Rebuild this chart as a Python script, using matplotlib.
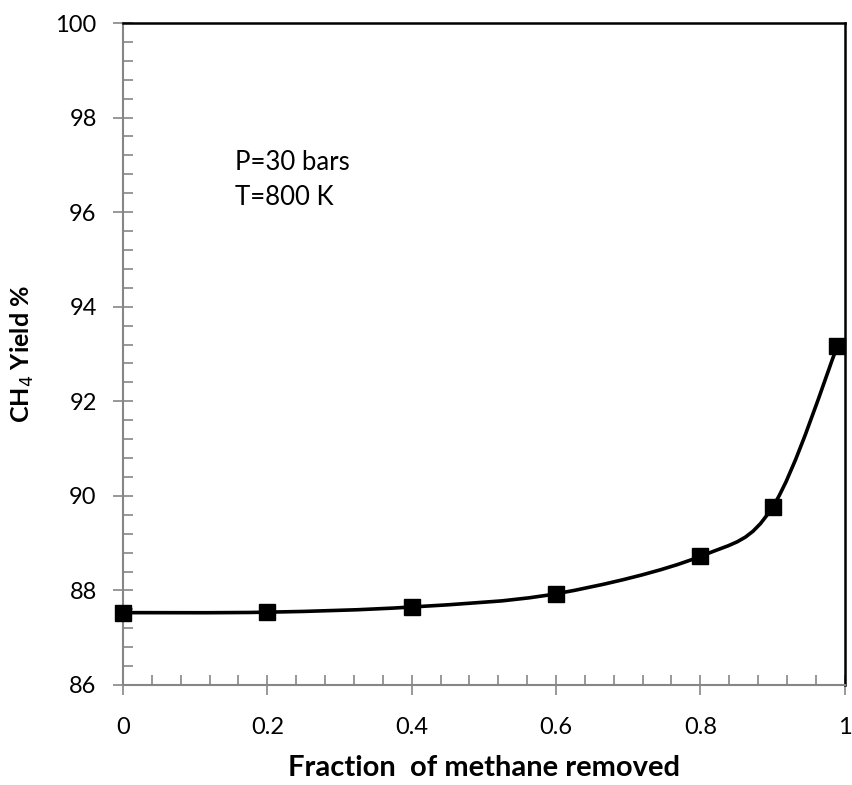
import numpy as np
import matplotlib.pyplot as plt
from matplotlib.path import Path
from matplotlib.patches import PathPatch
from matplotlib.ticker import MultipleLocator

plt.rcParams['font.family'] = ['Lato', 'DejaVu Sans']

frac_removed = [0.0, 0.2, 0.4, 0.6, 0.8, 0.9, 0.99]
ch4_yield = [87.53, 87.54, 87.65, 87.93, 88.72, 89.76, 93.17]

fig = plt.figure(figsize=(8.52, 7.85), dpi=100)
ax = fig.add_axes([0.1444, 0.1274, 0.8470, 0.8433])

# smooth line (Catmull-Rom style bezier, like a spreadsheet "smoothed line")
pts = np.column_stack([frac_removed, ch4_yield])
n = len(pts)
verts = [pts[0]]
codes = [Path.MOVETO]
for i in range(n - 1):
    p0 = pts[max(i - 1, 0)]
    p1 = pts[i]
    p2 = pts[i + 1]
    p3 = pts[min(i + 2, n - 1)]
    c1 = p1 + (p2 - p0) / 6.
    c2 = p2 - (p3 - p1) / 6.
    verts += [c1, c2, p2]
    codes += [Path.CURVE4] * 3
ax.add_patch(PathPatch(Path(verts, codes), fill=False, lw=2.6, color='black', zorder=2))

ax.plot(frac_removed, ch4_yield, ls='none', marker='s', ms=11, color='black', zorder=3, clip_on=False)

ax.set_xlim(0, 1)
ax.set_ylim(86, 100)
ax.xaxis.set_minor_locator(MultipleLocator(0.04))
ax.yaxis.set_major_locator(MultipleLocator(2))
ax.yaxis.set_minor_locator(MultipleLocator(0.4))
ax.set_xticks([0, 0.2, 0.4, 0.6, 0.8, 1.0])
ax.set_xticklabels(['0', '0.2', '0.4', '0.6', '0.8', '1'])

for s in ['left', 'bottom']:
    ax.spines[s].set_color('#868686')
    ax.spines[s].set_linewidth(1.5)
for s in ['top', 'right']:
    ax.spines[s].set_color('black')
    ax.spines[s].set_linewidth(1.8)

ax.tick_params(which='major', direction='inout', length=14, width=1.2, color='#868686',
               labelsize=17)
ax.tick_params(axis='x', which='major', pad=16)
ax.tick_params(axis='y', which='major', pad=12)
ax.tick_params(which='minor', direction='in', length=7, width=1.2, color='#868686')
ax.tick_params(top=False, right=False)

ax.set_xlabel('Fraction  of methane removed', fontsize=21, fontweight='bold', labelpad=12)
ax.set_ylabel('CH$_4$ Yield %', fontsize=18, fontweight='bold', labelpad=14)

ax.text(0.155, 97.04, 'P=30 bars', fontsize=18.5, va='center', ha='left')
ax.text(0.155, 96.32, 'T=800 K', fontsize=18.5, va='center', ha='left')

fig.savefig('out.png', dpi=100)
